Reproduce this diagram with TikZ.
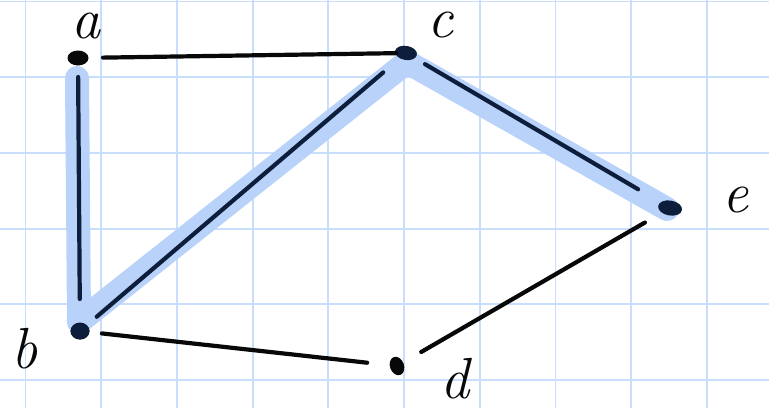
\documentclass[tikz,border=0pt]{standalone}
\usetikzlibrary{shapes.geometric}
\definecolor{gridblue}{RGB}{200,222,252}
\definecolor{hlblue}{RGB}{184,210,250}
\definecolor{ink}{RGB}{8,8,8}
\definecolor{navy}{RGB}{12,30,60}
\begin{document}
\begin{tikzpicture}[x=1pt,y=-1pt,
  gridline/.style={draw=gridblue,line width=1.8pt},
  dotnode/.style={ellipse,fill=ink,inner sep=0pt,minimum width=21pt,minimum height=15pt},
  hdot/.style={dotnode,fill=navy},
  lbl/.style={anchor=base,inner sep=0pt,font=\fontsize{58}{58}\selectfont\itshape,text=ink},
  edge/.style={draw=ink,line width=4.2pt,line cap=round},
  hedge/.style={edge,draw=navy},
  hl/.style={draw=hlblue,line width=24pt,line cap=round,line join=round}]
\useasboundingbox (0,0) rectangle (769,408);
\fill[white] (0,0) rectangle (769,408);
% grid
\foreach \x in {25.5,101.2,176.9,252.6,328.3,404,479.7,555.4,631.1,706.8}
  \draw[gridline] (\x,0) -- (\x,408);
\foreach \y in {1.5,77.2,152.9,228.6,304.3,380}
  \draw[gridline] (0,\y) -- (769,\y);
% vertices
\node[dotnode] (a) at (78,58) {};
\node[hdot,minimum width=19pt,minimum height=17pt] (b) at (80,331) {};
\node[hdot,minimum width=22pt,minimum height=14pt,rotate=-10] (c) at (406,53) {};
\node[dotnode,minimum width=14pt,minimum height=19pt,rotate=20] (d) at (397,366) {};
\node[hdot,minimum width=24pt,minimum height=15pt,rotate=-10] (e) at (670,208) {};
% highlight
\coordinate (h0) at (77,78);
\coordinate (hb) at (79,322);
\coordinate (hc) at (407,62);
\coordinate (he) at (667,209);
\draw[hl] (h0) -- (hb) -- (hc) -- (he);
% redraw highlighted dots on top
\node[hdot,minimum width=19pt,minimum height=17pt] at (b) {};
\node[hdot,minimum width=22pt,minimum height=14pt,rotate=-10] at (c) {};
\node[hdot,minimum width=24pt,minimum height=15pt,rotate=-10] at (e) {};
% edges
\draw[edge,shorten <=25pt,shorten >=10pt] (a.center) -- (c.center);
\draw[edge,shorten <=22pt,shorten >=30pt] (b.center) -- (d.center);
\draw[edge,shorten <=28pt,shorten >=29pt] (d.center) -- (e.center);
\draw[hedge,shorten <=19pt,shorten >=32pt] (a.center) -- (b.center);
\draw[hedge,shorten <=22pt,shorten >=30pt] (b.center) -- (c.center);
\draw[hedge,shorten <=22pt,shorten >=37pt] (c.center) -- (e.center);
% labels
\node[lbl] (la) at (86,38) {a};
\node[lbl] (lc) at (441,37) {c};
\node[lbl] (le) at (736,212) {e};
\node[lbl] (lb) at (25,368) {b};
\node[lbl] (ld) at (455,398) {d};
\end{tikzpicture}
\end{document}
